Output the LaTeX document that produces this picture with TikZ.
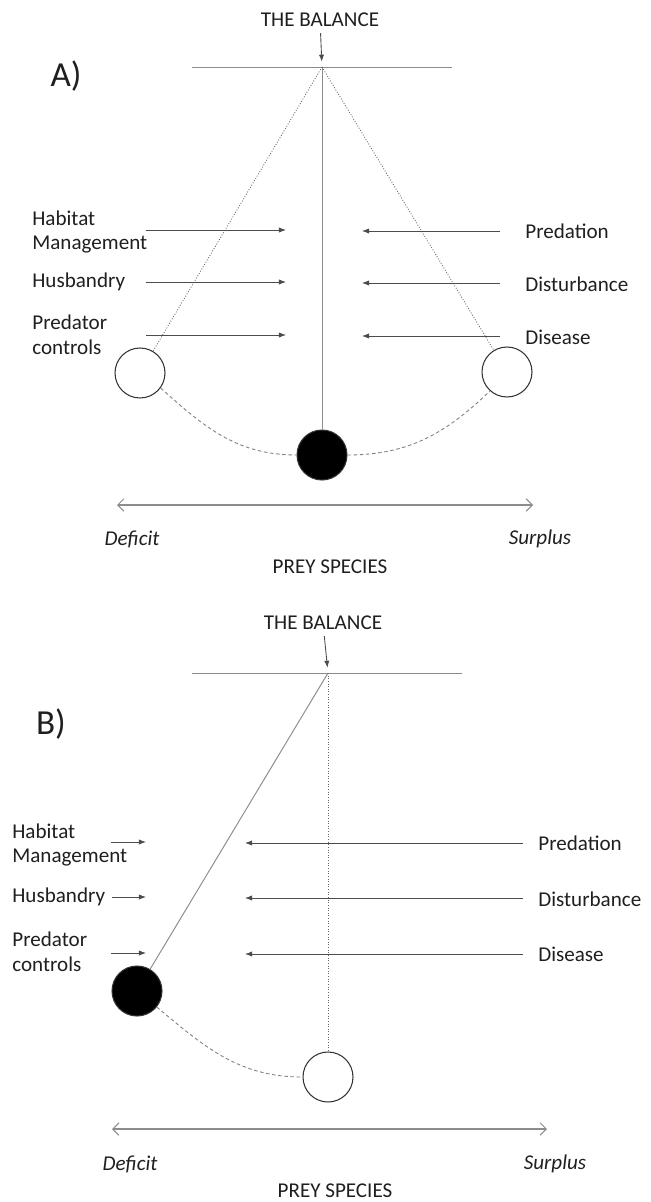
\documentclass[tikz,border=0pt]{standalone}
\usepackage{fontspec}
\setmainfont{Carlito}
\usepackage{xcolor}
\usepackage{tikz}
\usetikzlibrary{arrows.meta,positioning}
\definecolor{inkgray}{HTML}{1F1F1F}
\definecolor{rulegray}{HTML}{8C8C8C}

\begin{document}
\begin{tikzpicture}[x=0.02cm, y=-0.02cm, every node/.style={font=\fontsize{12}{14.2}\selectfont, text=inkgray},
  beam/.style={draw=rulegray, line width=0.55pt},
  push/.style={draw=black!70, line width=0.5pt, -{Latex[length=4pt,width=3pt]}},
  ghost/.style={draw=black!60, line width=0.5pt, densely dotted},
  swing/.style={draw=black!50, line width=0.5pt, dash pattern=on 2pt off 1.5pt},
  rangeline/.style={draw=rulegray, line width=0.6pt, {Straight Barb[length=3.5pt,width=7pt]}-{Straight Barb[length=3.5pt,width=7pt]}},
  bob/.style={circle, draw=black!80, line width=0.6pt, minimum size=1cm, inner sep=0pt},
  cue/.style={anchor=west, align=left, inner sep=0pt},
  panel/.style={font=\fontsize{20}{24}\selectfont}]
\useasboundingbox (0,0) rectangle (650,1202);

\node (tagA) [panel] at (66,76) {A)};
\node (balA) at (320,20) {THE BALANCE};
\coordinate (pivA) at (322,67);
\coordinate (beamAl) at (192,67);
\coordinate (beamAr) at (452,67);
\node (lbA) [bob] at (140,373) {};
\node (rbA) [bob] at (507,372) {};
\node (bobA) [bob, fill=black] at (322,455) {};

\node (habA) [cue] at (32,232) {Habitat\\Management};
\node (husA) [cue] at (32,282) {Husbandry};
\node (predA) [cue] at (32,335) {Predator\\controls};
\node (predaA) [cue] at (525,231) {Predation};
\node (distA) [cue] at (525,284) {Disturbance};
\node (disA) [cue] at (525,337) {Disease};

\coordinate (habAs) at (146,230);  \coordinate (habAt) at (286,230);
\coordinate (husAs) at (146,282);  \coordinate (husAt) at (286,282);
\coordinate (predAs) at (146,335); \coordinate (predAt) at (286,335);
\coordinate (predaAs) at (500,231); \coordinate (predaAt) at (362,231);
\coordinate (distAs) at (500,283);  \coordinate (distAt) at (362,283);
\coordinate (disAs) at (500,336);   \coordinate (disAt) at (362,336);

\coordinate (rangeAl) at (117,505);
\coordinate (rangeAr) at (533,505);
\node (defA) [font=\fontsize{12}{14.2}\selectfont\itshape] at (132,539) {Deficit};
\node (surA) [font=\fontsize{12}{14.2}\selectfont\itshape] at (540,539) {Surplus};
\node (preyA) at (330,567) {PREY SPECIES};

\draw[beam] (beamAl) -- (beamAr);
\draw[push, shorten >=3pt] (balA) -- (pivA);
\draw[beam] (pivA) -- (bobA);
\draw[ghost] (pivA) -- (lbA);
\draw[ghost] (pivA) -- (rbA);
\draw[swing] (lbA.-36) to[out=-42, in=180] (bobA.west);
\draw[swing] (bobA.east) to[out=0, in=-136] (rbA.-132);
\draw[push] (habAs) -- (habAt);
\draw[push] (husAs) -- (husAt);
\draw[push] (predAs) -- (predAt);
\draw[push] (predaAs) -- (predaAt);
\draw[push] (distAs) -- (distAt);
\draw[push] (disAs) -- (disAt);
\draw[rangeline] (rangeAl) -- (rangeAr);

\node (tagB) [panel] at (51,724) {B)};
\node (balB) at (323,623) {THE BALANCE};
\coordinate (pivB) at (328,673);
\coordinate (beamBl) at (192,673);
\coordinate (beamBr) at (462,673);
\node (bobB) [bob, fill=black] at (137,991) {};
\node (restB) [bob] at (328,1077) {};

\node (habB) [cue] at (12,845) {Habitat\\Management};
\node (husB) [cue] at (12,897) {Husbandry};
\node (predB) [cue] at (12,952) {Predator\\controls};
\node (predaB) [cue] at (538,843) {Predation};
\node (distB) [cue] at (538,899) {Disturbance};
\node (disB) [cue] at (538,954) {Disease};

\coordinate (habBs) at (111,842);  \coordinate (habBt) at (146,842);
\coordinate (husBs) at (112,897);  \coordinate (husBt) at (146,897);
\coordinate (predBs) at (111,953); \coordinate (predBt) at (146,953);
\coordinate (predaBs) at (523,843); \coordinate (predaBt) at (245,843);
\coordinate (distBs) at (523,898);  \coordinate (distBt) at (245,898);
\coordinate (disBs) at (523,954);   \coordinate (disBt) at (245,954);

\coordinate (rangeBl) at (112,1129);
\coordinate (rangeBr) at (547,1129);
\node (defB) [font=\fontsize{12}{14.2}\selectfont\itshape] at (130,1164) {Deficit};
\node (surB) [font=\fontsize{12}{14.2}\selectfont\itshape] at (555,1164) {Surplus};
\node (preyB) at (335,1191) {PREY SPECIES};

\draw[beam] (beamBl) -- (beamBr);
\draw[push, shorten >=3pt] (balB) -- (pivB);
\draw[beam] (pivB) -- (bobB);
\draw[ghost] (pivB) -- (restB);
\draw[swing] (bobB.-39) to[out=-40, in=180] (restB.west);
\draw[push] (habBs) -- (habBt);
\draw[push] (husBs) -- (husBt);
\draw[push] (predBs) -- (predBt);
\draw[push] (predaBs) -- (predaBt);
\draw[push] (distBs) -- (distBt);
\draw[push] (disBs) -- (disBt);
\draw[rangeline] (rangeBl) -- (rangeBr);
\end{tikzpicture}
\end{document}
